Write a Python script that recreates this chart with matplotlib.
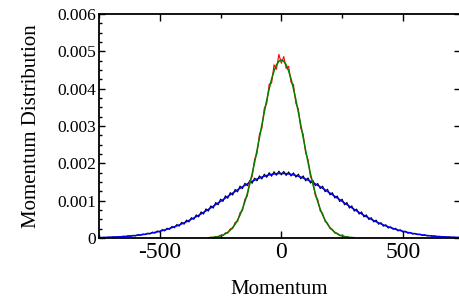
import matplotlib
matplotlib.use("Agg")
import matplotlib.pyplot as plt
import numpy as np
from matplotlib.ticker import MultipleLocator

plt.rcParams['font.family'] = ['Liberation Serif', 'DejaVu Serif']
plt.rcParams['axes.unicode_minus'] = False

# wide distribution (units of 1e-6), x = -750..750 step 10
wide_data = [15, 8, 17, 12, 24, 16, 30, 20, 38, 28,
             46, 36, 58, 45, 72, 56, 88, 70, 106, 88,
             130, 108, 158, 130, 188, 160, 225, 190, 262, 232,
             310, 272, 360, 318, 420, 370, 480, 430, 545, 500,
             620, 565, 700, 640, 780, 720, 860, 800, 950, 890,
             1040, 980, 1130, 1065, 1215, 1150, 1300, 1235, 1390, 1320,
             1465, 1400, 1540, 1465, 1605, 1530, 1665, 1580, 1710, 1625,
             1750, 1655, 1775, 1680, 1790,
             1690,
             1785, 1675, 1770, 1660, 1745,
             1630, 1710, 1585, 1665, 1530, 1610, 1470, 1540, 1400, 1460,
             1325, 1390, 1240, 1305, 1155, 1215, 1070, 1125, 975, 1040,
             890, 950, 800, 860, 720, 775, 640, 700, 565, 620,
             495, 545, 430, 480, 370, 410, 315, 355, 265, 300,
             232, 260, 190, 220, 160, 185, 128, 150, 105, 125,
             88, 104, 70, 84, 56, 68, 44, 55, 34, 44,
             28, 36, 20, 28, 15, 22, 12, 18, 9, 14]

wide_fit = [11, 12, 14, 16, 18, 20, 23, 26, 30, 34,
            38, 42, 48, 53, 60, 66, 74, 82, 91, 101,
            112, 123, 136, 150, 164, 180, 197, 215, 234, 255,
            277, 300, 324, 350, 378, 406, 436, 468, 501, 535,
            571, 607, 645, 685, 725, 766, 808, 851, 894, 938,
            982, 1027, 1072, 1116, 1161, 1204, 1248, 1290, 1332, 1372,
            1411, 1449, 1485, 1519, 1550, 1580, 1608, 1633, 1655, 1675,
            1691, 1705, 1716, 1724, 1728,
            1730,
            1728, 1724, 1716, 1705, 1691,
            1675, 1655, 1633, 1608, 1580, 1550, 1519, 1485, 1449, 1411,
            1372, 1332, 1290, 1248, 1204, 1161, 1116, 1072, 1027, 982,
            938, 894, 851, 808, 766, 725, 685, 645, 607, 571,
            535, 501, 468, 436, 406, 378, 350, 324, 300, 277,
            255, 234, 215, 197, 180, 164, 150, 136, 123, 112,
            101, 91, 82, 74, 66, 60, 53, 48, 42, 38,
            34, 30, 26, 23, 20, 18, 16, 14, 12, 11]

# narrow distribution (units of 1e-6), x = -300..300 step 10
narrow_data = [3, 20, 10, 40, 28, 75, 62, 140, 130, 250,
               250, 420, 440, 680, 730, 1040, 1120, 1530, 1640, 2110,
               2260, 2780, 2940, 3480, 3600, 4120, 4150, 4640, 4520, 4920,
               4680,
               4860, 4540, 4600, 4170, 4110, 3600, 3460, 2940, 2780, 2280,
               2100, 1640, 1510, 1130, 1030, 720, 660, 440, 400, 250,
               235, 130, 130, 60, 70, 30, 35, 10, 15, 4]

narrow_fit = [8, 12, 18, 27, 40, 57, 80, 112, 155, 210,
              281, 369, 480, 615, 777, 968, 1189, 1440, 1719, 2024,
              2348, 2687, 3031, 3371, 3696, 3995, 4259, 4475, 4637, 4736,
              4770,
              4736, 4637, 4475, 4259, 3995, 3696, 3371, 3031, 2687, 2348,
              2024, 1719, 1440, 1189, 968, 777, 615, 480, 369, 281,
              210, 155, 112, 80, 57, 40, 27, 18, 12, 8]

x_wide = np.arange(-750, 751, 10)
x_narrow = np.arange(-300, 301, 10)

fig = plt.figure(figsize=(4.59, 3.01), dpi=100)
ax = fig.add_axes([99 / 459, 63 / 301, 361 / 459, 224 / 301])

ax.plot(x_wide, np.array(wide_data) * 1e-6, color='black', lw=0.8)
ax.plot(x_wide, np.array(wide_fit) * 1e-6, color='#0000ff', lw=1.1)
ax.plot(x_narrow, np.array(narrow_data) * 1e-6, color='#ff0000', lw=0.8)
ax.plot(x_narrow, np.array(narrow_fit) * 1e-6, color='#008000', lw=1.1)

ax.set_xlim(-750, 735)
ax.set_ylim(0, 0.006)
ax.set_xticks([-500, 0, 500])
ax.set_yticks([0, 0.001, 0.002, 0.003, 0.004, 0.005, 0.006])
ax.set_yticklabels(['0', '0.001', '0.002', '0.003', '0.004', '0.005', '0.006'])
ax.xaxis.set_minor_locator(MultipleLocator(250))
ax.yaxis.set_minor_locator(MultipleLocator(0.00025))

ax.tick_params(axis='x', which='both', direction='in', top=True, labelsize=17, pad=3)
ax.tick_params(axis='x', which='major', length=5, width=1)
ax.tick_params(axis='x', which='minor', length=3, width=1)
ax.tick_params(axis='y', which='major', direction='in', right=True, length=4.5, width=1,
               labelsize=12.5, pad=2)
ax.tick_params(axis='y', which='minor', direction='in', right=False, length=2.5, width=1)

for s in ax.spines.values():
    s.set_linewidth(1.3)

ax.set_xlabel('Momentum', fontsize=15, labelpad=12)
ax.set_ylabel('Momentum Distribution', fontsize=15, labelpad=12)

fig.savefig('out.png', dpi=100)
